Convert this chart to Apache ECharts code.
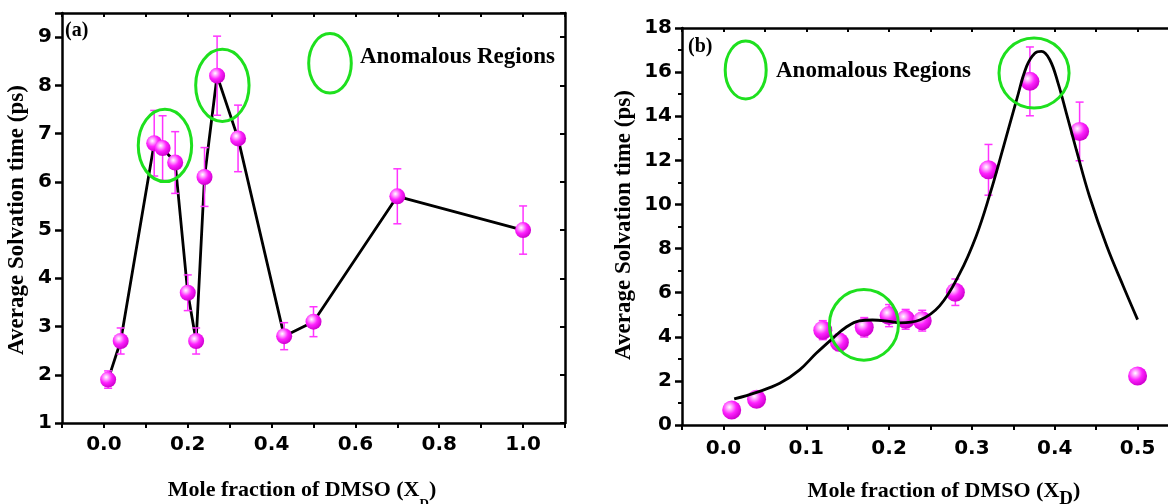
<!DOCTYPE html>
<html><head><meta charset="utf-8">
<script src="https://cdn.jsdelivr.net/npm/echarts@6/dist/echarts.min.js"></script>
<style>html,body{margin:0;padding:0;background:#fff}#c{width:1168px;height:504px}</style>
</head><body><div id="c"></div>
<script>
// Panel (a)
const xA = [0.01,0.04,0.12,0.14,0.17,0.20,0.22,0.24,0.27,0.32,0.43,0.50,0.70,1.00];
const yA = [1.9,2.7,6.8,6.7,6.4,3.7,2.7,6.1,8.2,6.9,2.8,3.1,5.7,5.0];
const eA = [0.18,0.27,0.68,0.67,0.64,0.37,0.27,0.61,0.82,0.69,0.28,0.31,0.57,0.5];
// anomalous-region ellipses (a): [cx, cy, rx, ry] in data units
const ellA = [[0.1456,6.755,0.0637,0.75],[0.2826,8.0,0.0637,0.75]];

// Panel (b)
const xB = [0.01,0.04,0.12,0.14,0.17,0.20,0.22,0.24,0.28,0.32,0.37,0.43,0.50];
const yB = [0.68,1.17,4.3,3.75,4.43,4.96,4.79,4.73,6.02,11.57,15.58,13.31,2.22];
const eB = [0.07,0.12,0.43,0.38,0.44,0.5,0.45,0.47,0.6,1.15,1.56,1.33,0.22];
// fitted curve (b)
const fitX = [0.013,0.04,0.068,0.092,0.112,0.132,0.148,0.164,0.18,0.20,0.213,0.237,0.261,0.285,0.305,0.322,0.338,0.354,0.366,0.376,0.384,0.394,0.404,0.414,0.426,0.442,0.463,0.483,0.50];
const fitY = [1.18,1.48,1.89,2.50,3.25,3.93,4.43,4.72,4.76,4.70,4.63,4.76,5.40,6.85,8.55,10.5,12.6,14.75,16.26,16.86,16.94,16.56,15.5,14.14,12.48,10.36,8.09,6.27,4.78];
const ellB = [[0.1696,4.54,0.0417,1.6],[0.375,15.96,0.0423,1.59]];

const xTicksA = [-0.1, 1.1, 0.1];
const yTicksA = [1, 9.5, 1];
const xTicksB = [-0.05, 0.55, 0.05];
const yTicksB = [0, 18, 2];

const chart = echarts.init(document.getElementById('c'), null, {renderer:'canvas'});
const SERIF = 'Liberation Serif';
const tickFont = {fontFamily:'DejaVu Sans', fontWeight:'bold', fontSize:20, color:'#000'};
const axLine = {show:true, onZero:false, lineStyle:{color:'#000', width:2.5}};

const sphere = {type:'radial', x:0.38, y:0.35, r:0.65, colorStops:[
  {offset:0,color:'#ffffff'},{offset:0.22,color:'#ffaaff'},{offset:0.55,color:'#ff22ff'},{offset:1,color:'#d000d0'}]};

function errRender(params, api){
  const x=api.value(0), y=api.value(1), e=api.value(2);
  const t=api.coord([x,y+e]), b=api.coord([x,y-e]);
  const w=4, st={stroke:'#ff33ff', lineWidth:1.5};
  return {type:'group', children:[
    {type:'line', shape:{x1:t[0],y1:t[1],x2:b[0],y2:b[1]}, style:st},
    {type:'line', shape:{x1:t[0]-w,y1:t[1],x2:t[0]+w,y2:t[1]}, style:st},
    {type:'line', shape:{x1:b[0]-w,y1:b[1],x2:b[0]+w,y2:b[1]}, style:st}]};
}
function ellRender(params, api){
  const c=api.coord([api.value(0),api.value(1)]);
  const p=api.coord([api.value(0)+api.value(2),api.value(1)+api.value(3)]);
  return {type:'ellipse', shape:{cx:c[0],cy:c[1],rx:Math.abs(p[0]-c[0]),ry:Math.abs(p[1]-c[1])},
    style:{fill:'none', stroke:'#1ee01e', lineWidth:3}};
}
function xAxes(grid, t, fmt, margin){
  return [
    {gridIndex:grid, type:'value', position:'bottom', min:t[0], max:t[1], interval:t[2],
     axisLine:axLine, axisTick:{show:true, length:5, lineStyle:{width:2,color:'#000'}},
     axisLabel:Object.assign({margin:margin, formatter:fmt, showMinLabel:true, showMaxLabel:true}, tickFont),
     splitLine:{show:false}},
    {gridIndex:grid, type:'value', position:'top', min:t[0], max:t[1], interval:t[2],
     axisLine:axLine, axisTick:{show:true, inside:true, length:4, lineStyle:{width:2,color:'#000'}},
     axisLabel:{show:false}, splitLine:{show:false}}
  ];
}
function yAxes(grid, t, fmt, minor){
  return [
    {gridIndex:grid, type:'value', position:'left', min:t[0], max:t[1], interval:t[2],
     axisLine:axLine, axisTick:{show:true, length:7, lineStyle:{width:2.5,color:'#000'}},
     minorTick:{show:minor, splitNumber:2, length:4, lineStyle:{width:2,color:'#000'}},
     axisLabel:Object.assign({margin:10, formatter:fmt}, tickFont), splitLine:{show:false}},
    {gridIndex:grid, type:'value', position:'right', min:t[0], max:t[1], interval:t[2],
     axisLine:axLine, axisTick:{show:true, inside:true, length:5, lineStyle:{width:2,color:'#000'}},
     axisLabel:{show:false}, splitLine:{show:false}}
  ];
}
const fmtXA = v => { const k=Math.round(v*10); return k%2===0 ? (k/10).toFixed(1) : ''; };
const fmtXB = v => { const k=Math.round(v*20); return k%2===0 ? (k/20).toFixed(1) : ''; };
const fmtYA = v => Math.abs(v-Math.round(v))<1e-6 ? String(Math.round(v)) : '';
const fmtYB = v => String(Math.round(v));

const titleRich = (subSize, subPad) => ({
  m:{fontFamily:SERIF, fontWeight:'bold', fontSize:22, lineHeight:24, verticalAlign:'top', color:'#000'},
  s:{fontFamily:SERIF, fontWeight:'bold', fontSize:subSize, lineHeight:subSize, padding:[subPad,0,0,0], verticalAlign:'top', color:'#000'}
});

const option = {
  animation:false,
  backgroundColor:'#fff',
  grid:[
    {left:62, top:13, width:503, height:410, outerBoundsMode:'none', containLabel:false},
    {left:682, top:28, width:497, height:397, outerBoundsMode:'none', containLabel:false}
  ],
  xAxis:[...xAxes(0,xTicksA,fmtXA,12), ...xAxes(1,xTicksB,fmtXB,14)],
  yAxis:[...yAxes(0,yTicksA,fmtYA,false), ...yAxes(1,yTicksB,fmtYB,true)],
  series:[
    {type:'line', xAxisIndex:0, yAxisIndex:0, data:xA.map((x,i)=>[x,yA[i]]), showSymbol:false, symbol:'none',
     lineStyle:{color:'#000', width:2.8}, z:2},
    {type:'custom', xAxisIndex:0, yAxisIndex:0, renderItem:errRender, data:xA.map((x,i)=>[x,yA[i],eA[i]]), z:3},
    {type:'scatter', xAxisIndex:0, yAxisIndex:0, data:xA.map((x,i)=>[x,yA[i]]), symbolSize:16,
     itemStyle:{color:sphere, opacity:1}, z:4},
    {type:'custom', xAxisIndex:0, yAxisIndex:0, renderItem:ellRender, data:ellA, z:6},

    {type:'custom', xAxisIndex:2, yAxisIndex:2, renderItem:errRender, data:xB.map((x,i)=>[x,yB[i],eB[i]]), z:2},
    {type:'scatter', xAxisIndex:2, yAxisIndex:2, data:xB.map((x,i)=>[x,yB[i]]), symbolSize:19,
     itemStyle:{color:sphere, opacity:1}, z:3},
    {type:'line', xAxisIndex:2, yAxisIndex:2, data:fitX.map((x,i)=>[x,fitY[i]]), showSymbol:false, symbol:'none',
     smooth:0.4, lineStyle:{color:'#000', width:2.8}, z:4},
    {type:'custom', xAxisIndex:2, yAxisIndex:2, renderItem:ellRender, data:ellB, z:6}
  ],
  graphic:[
    {type:'text', left:65, top:21, style:{text:'(a)', font:'bold 20px "Liberation Serif"', fill:'#000'}},
    {type:'text', left:688, top:37, style:{text:'(b)', font:'bold 20px "Liberation Serif"', fill:'#000'}},
    {type:'ellipse', shape:{cx:330, cy:63.3, rx:21.3, ry:29.7}, style:{fill:'none', stroke:'#1ee01e', lineWidth:3}},
    {type:'text', x:360, y:57, style:{text:'Anomalous Regions', font:'bold 23px "Liberation Serif"', fill:'#000', textAlign:'left', textVerticalAlign:'middle', align:'left', verticalAlign:'middle'}},
    {type:'ellipse', shape:{cx:745.7, cy:70, rx:20.5, ry:29}, style:{fill:'none', stroke:'#1ee01e', lineWidth:3}},
    {type:'text', x:776, y:71, style:{text:'Anomalous Regions', font:'bold 23px "Liberation Serif"', fill:'#000', textAlign:'left', textVerticalAlign:'middle', align:'left', verticalAlign:'middle'}},
    {type:'text', x:17, y:220, rotation:Math.PI/2, style:{text:'Average Solvation time (ps)', font:'bold 23px "Liberation Serif"', fill:'#000', textAlign:'center', textVerticalAlign:'middle', align:'center', verticalAlign:'middle'}},
    {type:'text', x:624, y:225, rotation:Math.PI/2, style:{text:'Average Solvation time (ps)', font:'bold 23px "Liberation Serif"', fill:'#000', textAlign:'center', textVerticalAlign:'middle', align:'center', verticalAlign:'middle'}},
    {type:'text', x:302, y:491, style:{text:'{m|Mole fraction of DMSO (X}{s|D}{m|)}', rich:titleRich(13,18), textAlign:'center', textVerticalAlign:'middle', align:'center', verticalAlign:'middle'}},
    {type:'text', x:944, y:492, style:{text:'{m|Mole fraction of DMSO (X}{s|D}{m|)}', rich:titleRich(19,10), textAlign:'center', textVerticalAlign:'middle', align:'center', verticalAlign:'middle'}}
  ]
};
chart.setOption(option);
</script>
</body></html>
